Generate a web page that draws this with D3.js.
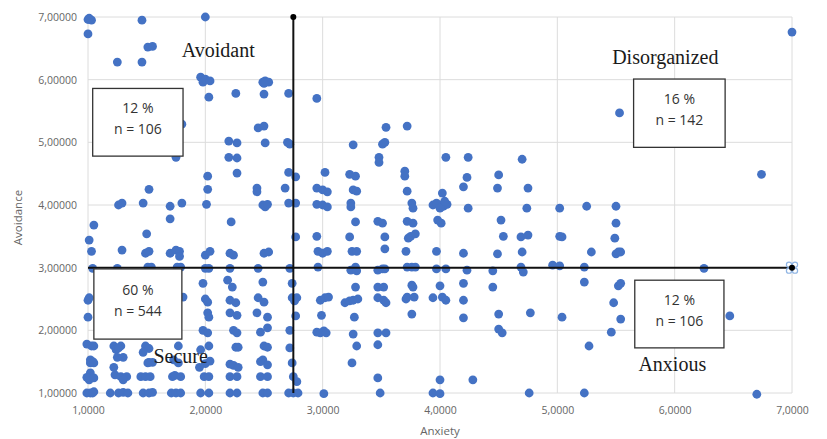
<!DOCTYPE html>
<html>
<head>
<meta charset="utf-8">
<script src="https://cdn.jsdelivr.net/npm/d3@7"></script>
<style>
  body { margin: 0; background: #fff; }
</style>
</head>
<body>
<div id="graph"></div>
<script>
// tick values
const xTicks = [1, 2, 3, 4, 5, 6, 7]
const yTicks = [1, 2, 3, 4, 5, 6, 7]

// cut-off lines (anxiety = 2.75, avoidance = 3)
const cutX = [[2.75, 7], [2.75, 1]]
const cutY = [[1, 3], [7, 3]]

// quadrant names and counts
const quadrants = ["Avoidant", "Disorganized", "Secure", "Anxious"]
const shares = ["12 %", "16 %", "60 %", "12 %"]
const counts = ["n = 106", "n = 142", "n = 544", "n = 106"]

// [anxiety, avoidance]
const points = [
  // ~1.0
  [1.00,6.96],[1.03,6.95],[1.01,6.98],[1.00,6.73],[1.05,3.68],[1.01,3.44],[1.03,3.26],[1.04,2.99],
  [1.00,2.48],[1.01,2.52],[1.00,2.21],[1.03,1.75],[0.99,1.78],[1.05,1.75],[1.02,1.53],[1.02,1.48],
  [1.04,1.50],[1.05,1.48],[1.02,1.32],[1.02,1.26],[1.01,1.21],[0.99,1.25],[1.05,1.24],[1.02,1.00],
  [0.99,1.00],[1.05,1.02],[1.04,1.00],
  // ~1.25
  [1.25,6.28],[1.26,4.00],[1.29,4.03],[1.29,3.28],[1.25,2.99],[1.22,1.75],[1.28,1.75],[1.24,1.69],
  [1.26,1.72],[1.25,1.57],[1.30,1.57],[1.22,1.41],[1.23,1.29],[1.28,1.26],[1.33,1.26],[1.30,1.21],
  [1.19,1.00],[1.26,1.00],[1.30,1.01],[1.34,1.00],
  // ~1.5
  [1.46,6.95],[1.51,6.52],[1.55,6.53],[1.46,6.28],[1.52,4.25],[1.47,4.03],[1.50,3.54],[1.49,3.23],
  [1.52,3.26],[1.51,3.01],[1.54,3.01],[1.49,1.75],[1.52,1.71],[1.47,1.65],[1.52,1.49],[1.55,1.49],
  [1.51,1.48],[1.45,1.26],[1.49,1.26],[1.53,1.26],[1.47,1.00],[1.52,1.00],[1.55,1.01],
  // ~1.75
  [1.80,5.29],[1.75,4.76],[1.70,3.98],[1.80,4.03],[1.70,3.78],[1.70,3.23],[1.75,3.28],[1.78,3.26],
  [1.78,3.18],[1.76,3.01],[1.79,3.01],[1.81,2.53],[1.77,1.75],[1.73,1.53],[1.77,1.48],[1.72,1.26],
  [1.74,1.28],[1.79,1.26],[1.71,1.00],[1.75,1.00],[1.79,1.00],
  // ~2.0
  [2.00,7.00],[1.96,6.04],[1.98,5.96],[2.00,6.01],[2.04,5.98],[2.03,5.72],[2.02,4.46],[2.02,4.25],
  [2.01,4.01],[2.00,3.20],[2.04,3.26],[2.00,2.99],[2.03,2.99],[1.98,2.75],[2.00,2.50],[2.02,2.45],
  [2.02,2.28],[2.03,2.21],[1.98,2.00],[2.02,1.96],[2.03,1.75],[1.96,1.69],[2.04,1.51],[2.00,1.47],
  [1.95,1.41],[1.99,1.26],[2.03,1.26],[1.96,1.00],[2.03,1.00],
  // ~2.25
  [2.26,5.78],[2.20,5.02],[2.27,4.99],[2.20,4.76],[2.27,4.75],[2.27,4.51],[2.22,3.73],[2.24,3.20],
  [2.21,3.23],[2.21,2.99],[2.19,2.80],[2.23,2.69],[2.21,2.48],[2.26,2.44],[2.21,2.28],[2.27,2.24],
  [2.24,2.00],[2.27,1.96],[2.26,1.73],[2.28,1.73],[2.21,1.46],[2.24,1.44],[2.28,1.41],[2.21,1.26],
  [2.27,1.26],[2.21,1.00],[2.27,1.00],
  // ~2.5
  [2.49,5.96],[2.51,5.98],[2.54,5.96],[2.50,5.94],[2.50,5.77],[2.45,5.23],[2.50,5.26],[2.51,4.99],
  [2.44,4.27],[2.44,4.21],[2.49,4.00],[2.51,3.97],[2.53,4.01],[2.50,3.23],[2.54,3.25],[2.45,2.99],
  [2.49,2.77],[2.45,2.52],[2.50,2.45],[2.44,2.28],[2.53,2.21],[2.47,1.97],[2.53,2.04],[2.50,1.75],
  [2.53,1.73],[2.49,1.53],[2.47,1.50],[2.53,1.45],[2.47,1.26],[2.53,1.26],[2.49,1.00],[2.53,1.00],
  // ~2.75
  [2.71,5.78],[2.70,5.00],[2.72,4.97],[2.71,4.52],[2.77,4.45],[2.68,4.27],[2.71,4.03],[2.77,4.03],
  [2.77,3.49],[2.72,2.99],[2.74,2.75],[2.74,2.52],[2.78,2.52],[2.76,2.47],[2.77,2.23],[2.72,2.00],
  [2.72,1.72],[2.74,1.48],[2.75,1.26],[2.78,1.18],[2.71,1.00],[2.75,1.00],[2.79,1.00],
  // ~3.0
  [2.95,5.70],[3.02,4.52],[2.95,4.27],[3.00,4.24],[3.04,4.21],[2.95,4.01],[3.00,4.00],[3.04,3.97],
  [2.95,3.50],[2.96,3.26],[3.00,3.23],[3.04,3.26],[2.96,3.01],[2.98,2.48],[3.02,2.52],[3.05,2.53],
  [2.99,2.24],[2.95,1.97],[2.98,1.96],[3.01,1.99],[3.03,1.96],[3.01,0.99],
  // ~3.25
  [3.26,4.96],[3.23,4.49],[3.28,4.46],[3.26,4.24],[3.29,4.22],[3.24,4.03],[3.24,3.97],[3.28,3.73],
  [3.23,3.49],[3.25,3.26],[3.29,3.26],[3.24,2.96],[3.28,3.01],[3.29,2.95],[3.28,2.69],[3.19,2.44],
  [3.23,2.47],[3.26,2.48],[3.30,2.50],[3.27,2.21],[3.26,1.94],[3.29,1.75],[3.25,1.48],
  // ~3.5
  [3.54,5.24],[3.51,4.97],[3.53,5.00],[3.48,4.76],[3.48,4.68],[3.47,3.74],[3.51,3.71],[3.53,3.49],
  [3.53,3.30],[3.47,2.96],[3.51,2.98],[3.53,2.98],[3.47,2.69],[3.52,2.69],[3.47,2.52],[3.52,2.48],
  [3.54,2.44],[3.47,1.96],[3.54,1.96],[3.47,1.77],[3.47,1.24],[3.49,1.00],
  // ~3.75
  [3.72,5.26],[3.70,4.54],[3.70,4.46],[3.72,4.22],[3.76,4.03],[3.77,3.95],[3.72,3.74],[3.77,3.71],
  [3.73,3.47],[3.75,3.50],[3.79,3.54],[3.71,3.26],[3.72,3.01],[3.76,3.01],[3.79,3.01],[3.76,2.72],
  [3.77,2.69],[3.71,2.50],[3.72,2.53],[3.78,2.53],[3.76,2.26],
  // ~4.0
  [4.05,4.76],[4.02,4.19],[3.94,4.00],[3.99,4.00],[4.03,3.98],[3.97,4.03],[4.06,4.01],[4.00,3.95],
  [4.04,4.06],[3.98,3.76],[4.01,3.71],[3.97,3.26],[3.97,2.98],[4.05,2.98],[4.00,2.71],[3.94,2.52],
  [4.02,2.53],[4.05,2.48],[4.00,1.21],[3.94,1.00],[4.00,0.99],
  // ~4.25
  [4.24,4.76],[4.23,4.44],[4.20,4.29],[4.24,3.95],[4.20,3.23],[4.23,2.96],[4.20,2.75],[4.20,2.48],
  [4.20,2.20],[4.28,1.21],
  // ~4.5
  [4.50,4.48],[4.49,4.27],[4.52,3.76],[4.54,3.50],[4.49,3.22],[4.45,2.95],[4.45,2.69],[4.50,2.26],
  [4.50,2.02],[4.53,1.96],
  // ~4.75
  [4.70,4.73],[4.75,4.27],[4.74,3.95],[4.69,3.49],[4.75,3.52],[4.70,3.25],[4.69,3.01],[4.71,2.93],
  [4.77,2.28],[4.76,1.00],
  // ~5.0
  [5.02,3.95],[5.02,3.50],[5.04,3.49],[4.96,3.04],[5.02,3.03],[5.04,2.21],
  // ~5.25
  [5.25,3.98],[5.29,3.25],[5.23,3.01],[5.23,2.77],[5.27,1.75],[5.23,1.00],
  // ~5.5
  [5.53,5.47],[5.50,3.98],[5.50,3.71],[5.49,3.47],[5.50,3.22],[5.52,3.25],[5.54,3.25],[5.52,2.71],
  [5.54,2.75],[5.48,2.44],[5.54,2.18],[5.46,1.97],
  // high anxiety
  [6.25,2.99],[6.47,2.23],[6.70,0.98],[6.74,4.49],[7.00,6.76]
]

const MARGIN = { LEFT: 88, RIGHT: 35, TOP: 17, BOTTOM: 46 }
const WIDTH = 827 - MARGIN.LEFT - MARGIN.RIGHT
const HEIGHT = 439 - MARGIN.TOP - MARGIN.BOTTOM

const svg = d3.select("#graph").append("svg")
    .attr("width", 827)
    .attr("height", 439)

const g = svg.append("g")
    .attr("transform", `translate(${MARGIN.LEFT}, ${MARGIN.TOP})`)

const x = d3.scaleLinear()
    .range([0, WIDTH])
    .domain([1, 7])

const y = d3.scaleLinear()
    .range([HEIGHT, 0])
    .domain([1, 7])

const comma = f => v => d3.format(f)(v).replace(".", ",")

// Gridlines
g.selectAll(".vgrid")
    .data(xTicks)
    .enter().append("line")
    .attr("x1", d => x(d)).attr("x2", d => x(d))
    .attr("y1", 0).attr("y2", HEIGHT)
    .attr("stroke", "#dcdcdc")
    .attr("stroke-width", 1)
g.selectAll(".hgrid")
    .data(yTicks)
    .enter().append("line")
    .attr("x1", 0).attr("x2", WIDTH)
    .attr("y1", d => y(d)).attr("y2", d => y(d))
    .attr("stroke", "#dcdcdc")
    .attr("stroke-width", 1)

// X Axis
const xAxisCall = d3.axisBottom(x).tickValues(xTicks).tickSize(0).tickPadding(14).tickFormat(comma(".4f"))
g.append("g")
    .attr("class", "x axis")
    .attr("transform", `translate(0, ${HEIGHT})`)
    .call(xAxisCall)

// Y Axis
const yAxisCall = d3.axisLeft(y).tickValues(yTicks).tickSize(0).tickPadding(11).tickFormat(comma(".5f"))
g.append("g")
    .attr("class", "y axis")
    .call(yAxisCall)

svg.selectAll(".axis .domain").remove()
svg.selectAll(".axis text")
    .attr("fill", "#666")
    .attr("font-family", "Open Sans, sans-serif")
    .attr("font-size", "10.5px")

// Labels
g.append("text")
    .attr("x", x(4))
    .attr("y", HEIGHT + 42)
    .attr("font-family", "Open Sans, sans-serif")
    .attr("font-size", "11.5px")
    .attr("fill", "#666")
    .attr("text-anchor", "middle")
    .text("Anxiety")
g.append("text")
    .attr("transform", "rotate(-90)")
    .attr("x", -(y(3.8)))
    .attr("y", -66)
    .attr("font-family", "Open Sans, sans-serif")
    .attr("font-size", "11.5px")
    .attr("fill", "#666")
    .attr("text-anchor", "middle")
    .text("Avoidance")

// Data points
g.selectAll(".dot")
    .data(points)
    .enter().append("circle")
    .attr("cx", d => x(d[0]))
    .attr("cy", d => y(d[1]))
    .attr("r", 4.4)
    .attr("fill", "#4472c4")

// Cut-off lines
const line = d3.line().x(d => x(d[0])).y(d => y(d[1]))
;[cutX, cutY].forEach(seg => {
    g.append("path")
        .attr("d", line(seg))
        .attr("fill", "none")
        .attr("stroke", "#111")
        .attr("stroke-width", 2)
})
// selection handles at the right end
const handle = cutY[1]
;[[-3, -3], [3, -3], [-3, 3], [3, 3]].forEach(o => {
    g.append("circle")
        .attr("cx", x(handle[0]) + o[0])
        .attr("cy", y(handle[1]) + o[1])
        .attr("r", 2.6)
        .attr("fill", "none")
        .attr("stroke", "#8fb4e3")
        .attr("stroke-width", 1.2)
})
g.selectAll(".endpoint")
    .data([cutX[0], cutY[1]])
    .enter().append("circle")
    .attr("cx", d => x(d[0]))
    .attr("cy", d => y(d[1]))
    .attr("r", 3)
    .attr("fill", "#000")

// Quadrant names
const namePos = [[2.11, 6.36], [5.92, 6.25], [1.79, 1.48], [5.98, 1.35]]
g.selectAll(".qname")
    .data(quadrants)
    .enter().append("text")
    .attr("x", (d, i) => x(namePos[i][0]))
    .attr("y", (d, i) => y(namePos[i][1]))
    .attr("font-family", "Liberation Serif, Times New Roman, serif")
    .attr("font-size", "20px")
    .attr("fill", "#1a1a1a")
    .attr("text-anchor", "middle")
    .text(d => d)

// Count boxes [x0, x1, y top, y bottom]
const boxPos = [[1.04, 1.81, 5.86, 4.78], [5.65, 6.43, 6.01, 4.92], [1.05, 1.80, 2.98, 1.86], [5.66, 6.42, 2.80, 1.72]]
const boxes = g.selectAll(".box")
    .data(shares)
    .enter().append("g")
boxes.append("rect")
    .attr("x", (d, i) => x(boxPos[i][0]))
    .attr("y", (d, i) => y(boxPos[i][2]))
    .attr("width", (d, i) => x(boxPos[i][1]) - x(boxPos[i][0]))
    .attr("height", (d, i) => y(boxPos[i][3]) - y(boxPos[i][2]))
    .attr("fill", "#fff")
    .attr("stroke", "#333")
    .attr("stroke-width", 1.3)
boxes.append("text")
    .attr("x", (d, i) => (x(boxPos[i][0]) + x(boxPos[i][1])) / 2)
    .attr("y", (d, i) => (y(boxPos[i][2]) + y(boxPos[i][3])) / 2 - 9)
    .attr("font-family", "Open Sans, sans-serif")
    .attr("font-size", "14px")
    .attr("fill", "#333")
    .attr("text-anchor", "middle")
    .text(d => d)
boxes.append("text")
    .attr("x", (d, i) => (x(boxPos[i][0]) + x(boxPos[i][1])) / 2)
    .attr("y", (d, i) => (y(boxPos[i][2]) + y(boxPos[i][3])) / 2 + 12)
    .attr("font-family", "Open Sans, sans-serif")
    .attr("font-size", "14px")
    .attr("fill", "#333")
    .attr("text-anchor", "middle")
    .text((d, i) => counts[i])
</script>
</body>
</html>
